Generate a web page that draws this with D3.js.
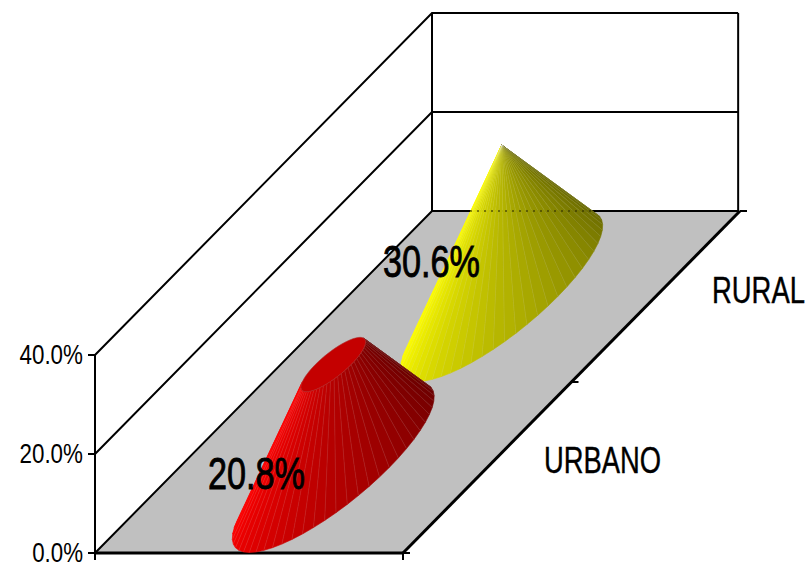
<!DOCTYPE html>
<html>
<head>
<meta charset="utf-8">
<script src="https://cdn.jsdelivr.net/npm/d3@7/dist/d3.min.js"></script>
<style>
html,body{margin:0;padding:0;background:#fff;overflow:hidden}
svg{display:block}
text{font-family:"Liberation Sans Narrow","Liberation Sans",sans-serif;fill:#000}
</style>
</head>
<body>
<svg id="c" width="811" height="563"></svg>
<script>
const categories = ["URBANO", "RURAL"];
const values = [20.8, 30.6];
const valueTicks = [0, 20, 40];
const tickLabels = ["0.0%", "20.0%", "40.0%"];
const topRadii = [0.32, 0];
const brightColors = ["#ff0000", "#ffff00"];
const darkColors = ["#620000", "#646400"];
const capColors = ["#c40000", "#cccc00"];

const svg = d3.select("#c");

// projection of the 3D box
const x0 = 95, y0 = 553, floorW = 308, depthX = 337, depthY = 342;
const yScale = d3.scaleLinear().domain([0, 40]).range([0, 198]);
const zScale = d3.scaleBand().domain(categories).range([0, 1]);
const P = (fx, d, v) => [x0 + fx * floorW + d * depthX, y0 - d * depthY - yScale(v)];
const path = pts => "M" + pts.map(p => p.join(",")).join("L") + "Z";

// text fitted to a width by horizontal scaling, anchored at its left edge
const fitText = (str, left, baseline, size, width, strokeW) => {
  const t = svg.append("text").attr("font-size", size).text(str);
  if (strokeW) t.attr("stroke", "#000").attr("stroke-width", strokeW);
  const natural = t.node().getComputedTextLength();
  t.attr("transform", `translate(${left},${baseline}) scale(${width / natural},1)`);
  return t;
};

const black = "#000";
svg.append("path").attr("d", path([P(0,0,0), P(1,0,0), P(1,1,0), P(0,1,0)])).attr("fill", "#c0c0c0");

const gWall = svg.append("g").attr("stroke", black).attr("stroke-width", 2).attr("fill", "none");
valueTicks.forEach(v => {
  gWall.append("path").attr("d", "M" + P(0,0,v) + "L" + P(0,1,v) + "L" + P(0.994,1,v));
});
gWall.append("line").attr("x1", P(0,1,0)[0]).attr("y1", P(0,1,0)[1]).attr("x2", P(0,1,40)[0]).attr("y2", P(0,1,40)[1]);
gWall.append("line").attr("x1", P(0.994,1,0)[0]).attr("y1", P(0.994,1,0)[1]).attr("x2", P(0.994,1,40)[0]).attr("y2", P(0.994,1,40)[1]);
gWall.append("line").attr("x1", x0).attr("y1", y0).attr("x2", x0).attr("y2", y0 - yScale(40));
valueTicks.forEach((v, i) => {
  const y = y0 - yScale(v);
  gWall.append("line").attr("x1", x0 - 7).attr("x2", x0).attr("y1", y).attr("y2", y);
  const w = tickLabels[i].length * 12.7;
  fitText(tickLabels[i], x0 - 12 - w, y + 9, 28, w, 0);
});

const gEdge = svg.append("g").attr("stroke", black).attr("fill", "none");
gEdge.append("line").attr("stroke-width", 3).attr("x1", x0).attr("y1", y0).attr("x2", x0 + floorW).attr("y2", y0);
gEdge.append("line").attr("stroke-width", 3).attr("x1", P(1,0,0)[0]).attr("y1", P(1,0,0)[1]).attr("x2", P(1,1,0)[0]).attr("y2", P(1,1,0)[1]);
[0, 1].forEach(f => gEdge.append("line").attr("stroke-width", 2)
  .attr("x1", P(f,0,0)[0]).attr("y1", y0).attr("x2", P(f,0,0)[0]).attr("y2", y0 + 7));
[0, 0.5, 1].forEach(d => {
  const p = P(1,d,0);
  gEdge.append("line").attr("stroke-width", 2).attr("x1", p[0]).attr("y1", p[1]).attr("x2", p[0] + 7).attr("y2", p[1]);
});

// cones: back one first
const N = 56;
const rx = 56, bx = 84, by = 85;
const drawCone = i => {
  const d = zScale(categories[i]) + zScale.bandwidth() / 2;
  const base = P(0.5, d, 0), top = P(0.5, d, values[i]);
  const ring = (c, r) => d3.range(N).map(k => {
    const t = 2 * Math.PI * k / N;
    return [c[0] + r * (rx * Math.cos(t) + bx * Math.sin(t)), c[1] - r * by * Math.sin(t)];
  });
  const rb = ring(base, 1), rt = ring(top, topRadii[i]);
  const facets = d3.range(N).map(k => {
    const n = (k + 1) % N;
    return [rb[k], rb[n], rt[n], rt[k]];
  });
  const visible = d3.range(N).filter(k => d3.polygonArea(facets[k]) > 0);
  let start = visible.find(k => !visible.includes((k + N - 1) % N));
  if (start === undefined) start = visible[0];
  const seq = visible.map(k => (k - start + N) % N).sort(d3.ascending).map(o => (o + start) % N);
  const color = d3.scaleLinear().domain([1, seq.length - 1]).clamp(true)
    .range([brightColors[i], darkColors[i]]).interpolate(d3.interpolateRgb);
  const g = svg.append("g");
  seq.forEach((k, j) => {
    g.append("path").attr("d", path(facets[k])).attr("fill", color(j))
      .attr("stroke", color(j)).attr("stroke-width", 0.6);
  });
  seq.forEach((k, j) => {
    if (j > 2) g.append("line")
      .attr("x1", facets[k][0][0]).attr("y1", facets[k][0][1])
      .attr("x2", facets[k][3][0]).attr("y2", facets[k][3][1])
      .attr("stroke", "#fff").attr("stroke-opacity", 0.2).attr("stroke-width", 0.5);
  });
  if (topRadii[i] > 0) {
    g.append("path").attr("d", path(rt)).attr("fill", capColors[i]).attr("stroke", "#b03030").attr("stroke-width", 0.6);
  }
};
drawCone(1);
const footY = P(0,1,0)[1];
svg.append("line").attr("x1", 470).attr("x2", 596).attr("y1", footY).attr("y2", footY)
  .attr("stroke", "#2a2a00").attr("stroke-opacity", 0.7).attr("stroke-width", 1.5).attr("stroke-dasharray", "2 5");
drawCone(0);

// data labels
const labelX = [208, 383], labelY = [489, 277];
values.forEach((v, i) => fitText(v.toFixed(1) + "%", labelX[i], labelY[i], 44, 97, 0.9));

// category labels
const catX = [544, 712], catY = [473, 303], catW = [117, 93];
categories.forEach((c, i) => fitText(c, catX[i], catY[i], 37, catW[i], 0.4));
</script>
</body>
</html>
